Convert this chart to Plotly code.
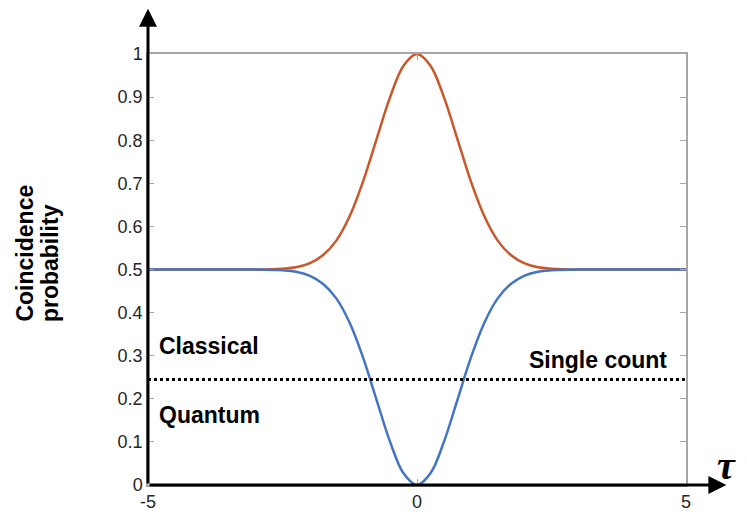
import plotly.graph_objects as go

# Values
tau = [-5, -4, -3, -2.5, -2.25, -2, -1.75, -1.5, -1.25, -1, -0.75, -0.5, -0.25,
       0, 0.25, 0.5, 0.75, 1, 1.25, 1.5, 1.75, 2, 2.25, 2.5, 3, 4, 5]
classical = [0.5, 0.5, 0.5, 0.502, 0.505, 0.514, 0.533, 0.567, 0.624, 0.705, 0.803, 0.90, 0.973,
             1.0, 0.973, 0.90, 0.803, 0.705, 0.624, 0.567, 0.533, 0.514, 0.505, 0.502, 0.5, 0.5, 0.5]
quantum = [0.5, 0.5, 0.5, 0.498, 0.495, 0.486, 0.467, 0.433, 0.376, 0.295, 0.197, 0.10, 0.027,
           0.0, 0.027, 0.10, 0.197, 0.295, 0.376, 0.433, 0.467, 0.486, 0.495, 0.498, 0.5, 0.5, 0.5]
single_count_x = [-5, 5.13]
single_count_y = [0.245, 0.245]

x_ticks = [-5, 0, 5]
y_ticks = [0, 0.1, 0.2, 0.3, 0.4, 0.5, 0.6, 0.7, 0.8, 0.9, 1]
y_tick_labels = ["0", "0.1", "0.2", "0.3", "0.4", "0.5", "0.6", "0.7", "0.8", "0.9", "1"]

FONT = "Liberation Sans"

fig = go.Figure()

fig.add_scatter(
    x=tau, y=classical, mode="lines", line=dict(color="#C9572A", width=2.5, shape="spline"),
    showlegend=False,
)
fig.add_scatter(
    x=tau, y=quantum, mode="lines", line=dict(color="#4474C4", width=2.5, shape="spline"),
    showlegend=False,
)
fig.add_scatter(
    x=single_count_x, y=single_count_y, mode="lines",
    line=dict(color="black", width=3, dash="dot"), showlegend=False, cliponaxis=False,
)

# Axis arrows (black, over the grey box)
fig.add_annotation(x=5.75, y=0, ax=-5, ay=0, xref="x", yref="y", axref="x", ayref="y",
                   text="", showarrow=True, arrowhead=2, arrowsize=1.2, arrowwidth=3,
                   arrowcolor="black", standoff=0, startstandoff=0)
fig.add_annotation(x=-5, y=1.105, ax=-5, ay=0, xref="x", yref="y", axref="x", ayref="y",
                   text="", showarrow=True, arrowhead=2, arrowsize=1.2, arrowwidth=3,
                   arrowcolor="black", standoff=0, startstandoff=0)

# Text labels
label_font = dict(family=FONT, size=23, color="black")
fig.add_annotation(x=-4.84, y=0.322, xref="x", yref="y", text="<b>Classical</b>",
                   showarrow=False, xanchor="left", font=label_font)
fig.add_annotation(x=-4.84, y=0.162, xref="x", yref="y", text="<b>Quantum</b>",
                   showarrow=False, xanchor="left", font=label_font)
fig.add_annotation(x=4.68, y=0.29, xref="x", yref="y", text="<b>Single count</b>",
                   showarrow=False, xanchor="right", font=label_font)

# y title, two lines start-aligned
title_font = dict(family=FONT, size=23, color="black")
fig.add_annotation(x=-0.2286, y=0.3735, xref="paper", yref="paper",
                   text="<b>Coincidence</b>", textangle=-90, xanchor="center", yanchor="bottom",
                   showarrow=False, font=title_font)
fig.add_annotation(x=-0.182, y=0.3735, xref="paper", yref="paper",
                   text="<b>probability</b>", textangle=-90, xanchor="center", yanchor="bottom",
                   showarrow=False, font=title_font)
fig.add_annotation(x=1.0967, y=-0.0116, xref="paper", yref="paper",
                   text="<i><b>τ</b></i>", showarrow=False,
                   font=dict(family="Liberation Serif", size=40, color="black"))

axis_style = dict(
    showline=True, linecolor="#A6A6A6", linewidth=1.5, mirror="ticks",
    ticks="inside", ticklen=6, tickcolor="#A6A6A6", tickwidth=1,
    showgrid=False, zeroline=False, automargin=False,
    tickfont=dict(family=FONT, size=18, color="#262626"),
)
fig.update_xaxes(range=[-5, 5], tickvals=x_ticks, ticktext=[str(v) for v in x_ticks], **axis_style)
fig.update_yaxes(range=[0, 1], tickvals=y_ticks, ticktext=y_tick_labels, **axis_style)

# page body has an 8px margin, so the figure is sized and placed to compensate
fig.update_layout(
    width=739, height=509,
    margin=dict(l=140, r=61, t=46, b=32),
    plot_bgcolor="white", paper_bgcolor="white",
    font=dict(family=FONT),
)

fig.write_html("out.html")
